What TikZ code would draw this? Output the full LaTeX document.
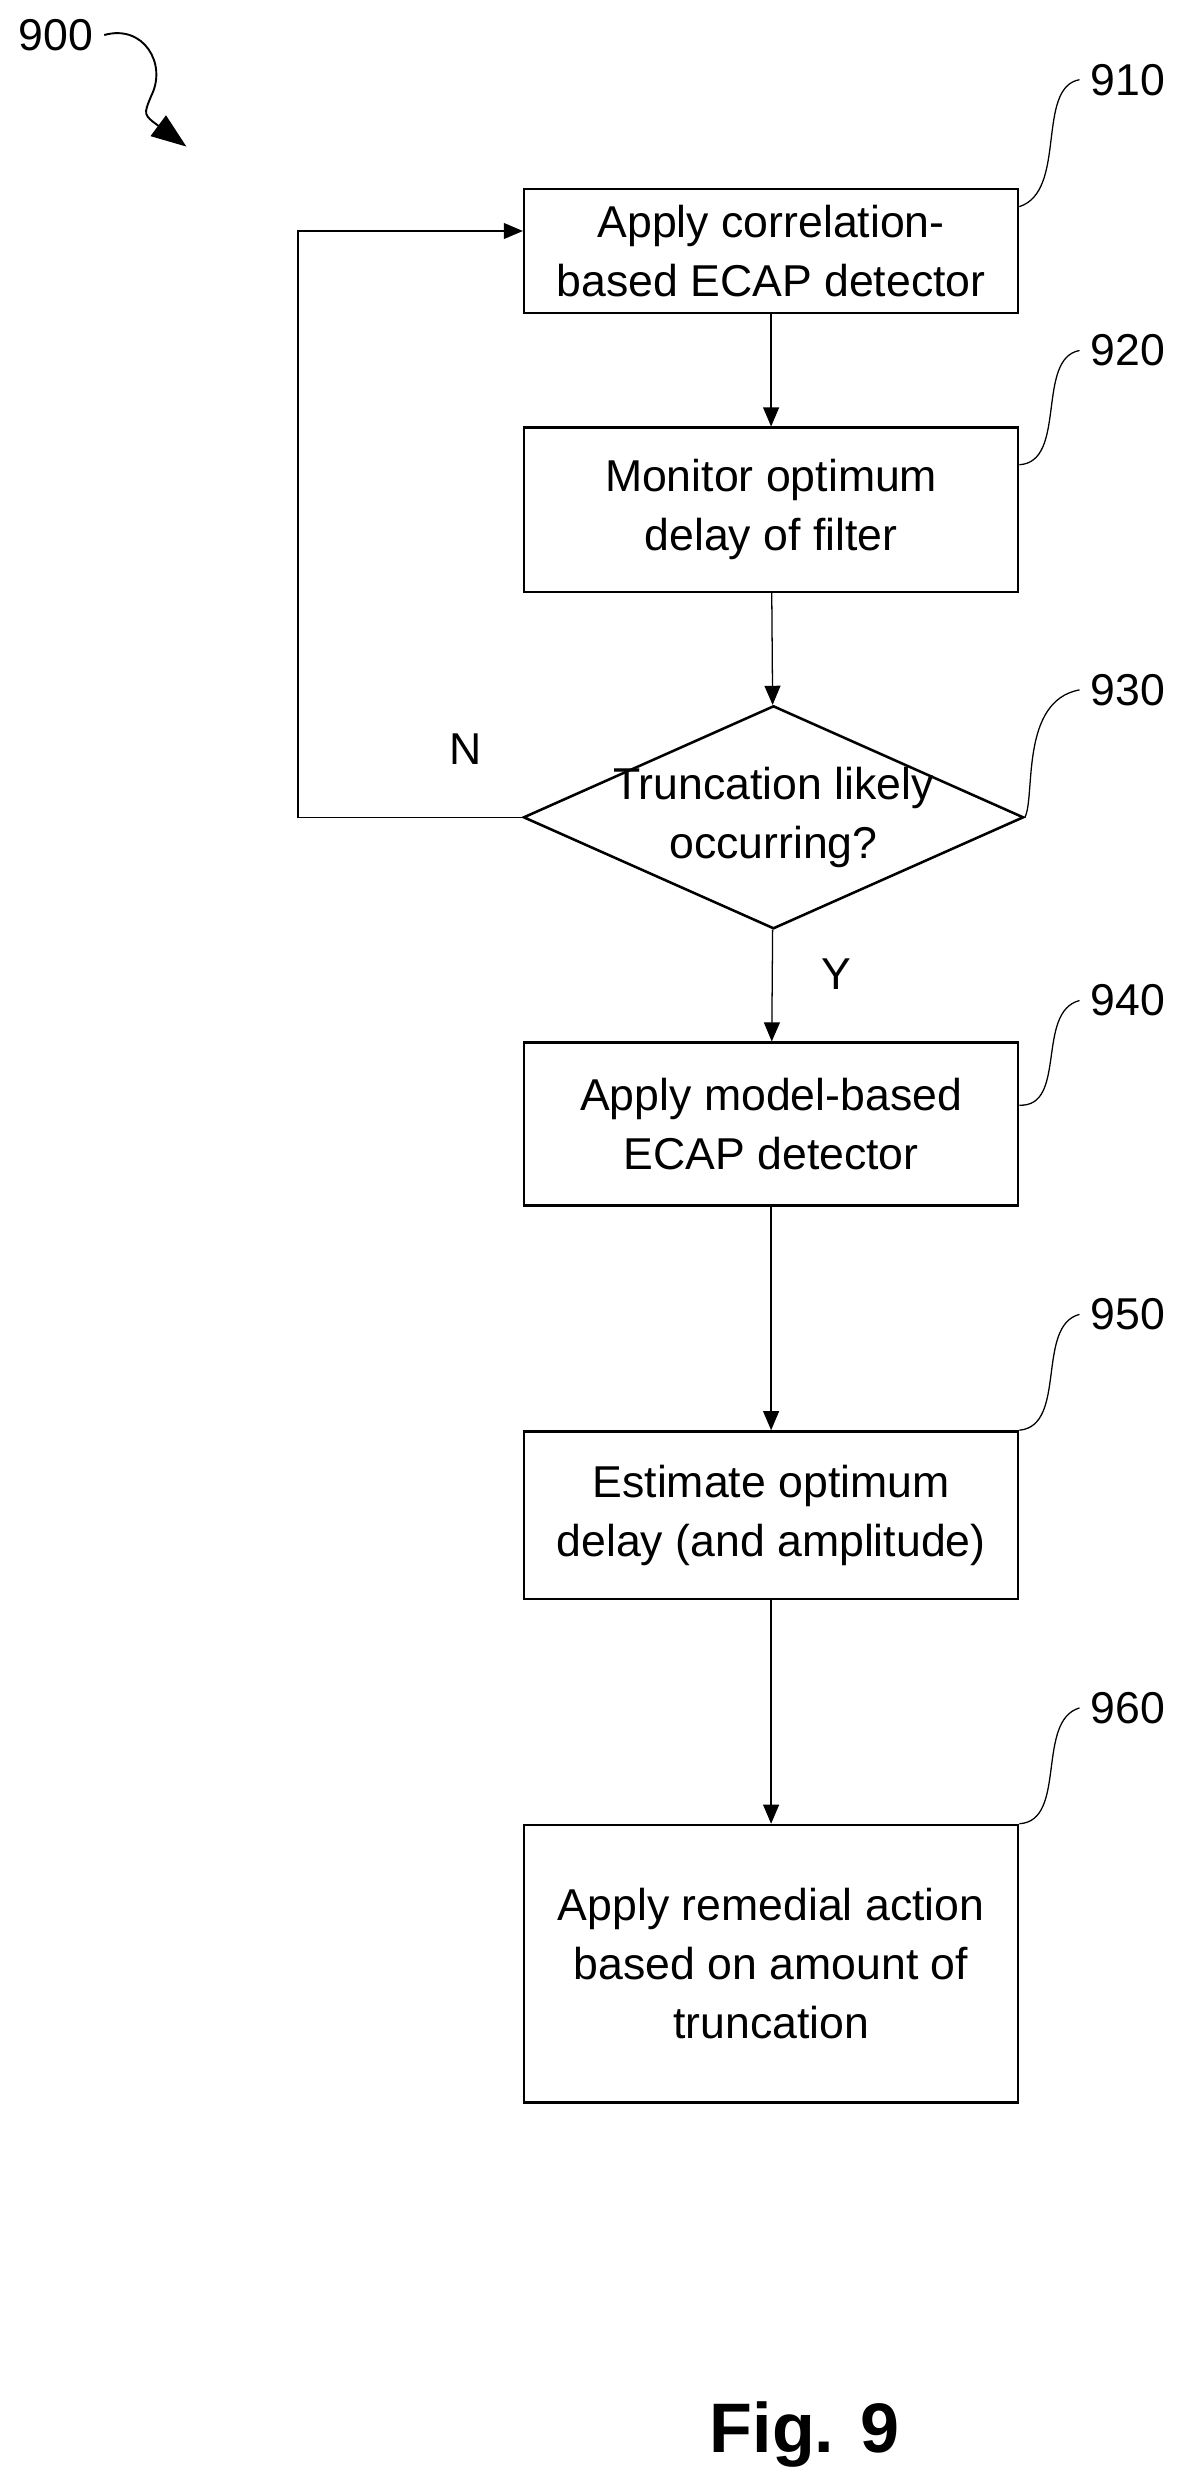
\documentclass[tikz,border=0pt]{standalone}
\usepackage{fontspec}
\setmainfont{Liberation Sans}
\usetikzlibrary{shapes.geometric,arrows.meta}
\tikzset{
  stage/.style={draw, thick, minimum width=155pt, align=center, font=\fontsize{14}{18.5}\selectfont},
  tag/.style={font=\fontsize{14}{16}\selectfont},
  flow/.style={-{Triangle[length=6pt,width=5pt]}},
}
\begin{document}
\begin{tikzpicture}[x=0.5pt,y=-0.5pt]
  \useasboundingbox (0,0) rectangle (750,1556);
  \node[stage, minimum height=39pt] (s910) at (484,157.5) {Apply correlation-\\based ECAP detector};
  \node[stage, minimum height=51.5pt] (s920) at (484,320) {Monitor optimum\\delay of filter};
  \node[draw, thick, diamond, aspect=2.25, minimum width=157pt, minimum height=70pt, inner sep=-14pt, align=center, font=\fontsize{14}{18.5}\selectfont] (s930) at (485.5,513) {Truncation likely\\occurring?};
  \node[stage, minimum height=51pt] (s940) at (484,705.5) {Apply model-based\\ECAP detector};
  \node[stage, minimum height=52.5pt] (s950) at (484,951) {Estimate optimum\\delay (and amplitude)};
  \node[stage, minimum height=87pt] (s960) at (484,1232.5) {Apply remedial action\\based on amount of\\truncation};
  \draw[flow] (s910) -- (s920);
  \draw[flow] (s920) -- (s930);
  \draw[flow] (s930) -- node[tag, right, pos=0.4, xshift=12pt] {Y} (s940);
  \draw[flow] (s940) -- (s950);
  \draw[flow] (s950) -- (s960);
  \coordinate (bendlow) at (187,513);
  \coordinate (bendhigh) at (187,145);
  \draw[flow] (s930.west) -- (bendlow) -- (bendhigh) -- (bendhigh -| s910.west);
  \node[tag] (no) at (292,470) {N};
  % reference numerals
  \node[tag] (n900) at (35,22) {900};
  \coordinate (p900) at (117,92);
  \draw[semithick, -{Triangle[length=11pt,width=8pt]}] (n900.east) .. controls (90,15) and (105,40) .. (95,60) .. controls (90,72) .. (p900);
  \foreach \n/\y in {910/50, 920/220, 930/433, 940/628, 950/825, 960/1072}{
    \node[tag] (n\n) at (708,\y) {\n};
  }
  \draw (n910.west) .. controls (650,55) and (670,120) .. ([yshift=-6pt]s910.north east);
  \draw (n920.west) .. controls (650,225) and (670,290) .. ([yshift=-12pt]s920.north east);
  \draw (n930.west) .. controls (640,440) and (650,500) .. (s930.east);
  \draw (n940.west) .. controls (650,635) and (670,695) .. ([yshift=-20pt]s940.north east);
  \draw (n950.west) .. controls (650,832) and (670,895) .. (s950.north east);
  \draw (n960.west) .. controls (650,1080) and (670,1143) .. (s960.north east);
  \node[font=\bfseries\fontsize{22}{26}\selectfont] (figlabel) at (505,1528) {Fig. 9};
\end{tikzpicture}
\end{document}
